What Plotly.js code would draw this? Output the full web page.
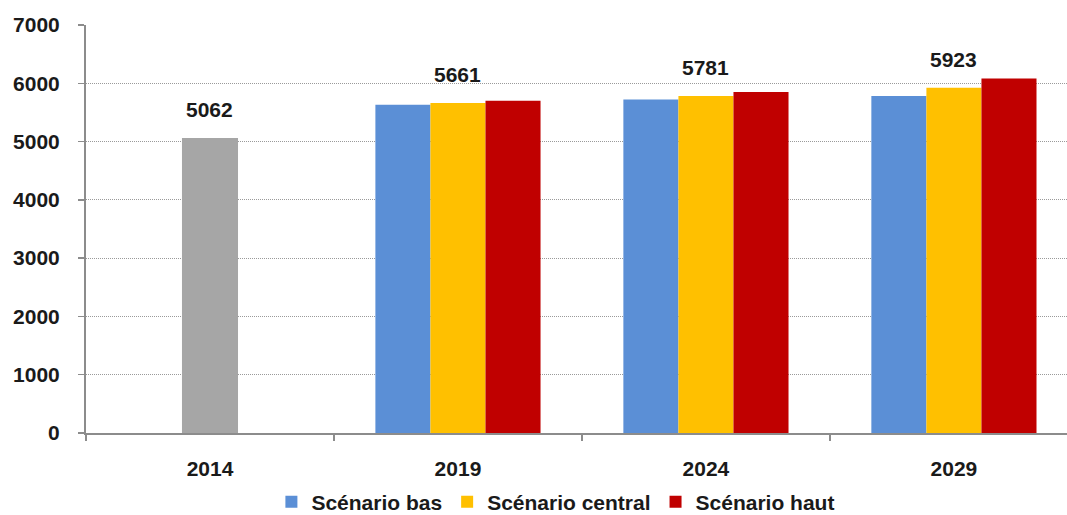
<!DOCTYPE html>
<html>
<head>
<meta charset="utf-8">
<script src="https://cdn.plot.ly/plotly-3.0.1.min.js"></script>
<style>html,body{margin:0;padding:0;background:#fff;}#chart{width:1067px;height:515px;}</style>
</head>
<body>
<div id="chart"></div>
<script>
const categories = ['2014', '2019', '2024', '2029'];
const histCats = ['2014'];
const histValues = [5062];
const scenCats = ['2019', '2024', '2029'];
const basValues = [5630, 5720, 5780];
const centralValues = [5661, 5781, 5923];
const hautValues = [5700, 5850, 6080];
const seriesNames = ['Scénario bas', 'Scénario central', 'Scénario haut'];
const yTicks = [0, 1000, 2000, 3000, 4000, 5000, 6000, 7000];

const FONT = 'Liberation Sans, Arial, sans-serif';
const TXT = '#1a1a1a';
const W = 0.222;
const FS = 21;

const traces = [
  {type: 'bar', x: histCats, y: histValues, name: 'Historique', showlegend: false,
   marker: {color: '#a6a6a6'}, width: 0.226, offset: -0.113},
  {type: 'bar', x: scenCats, y: basValues, name: seriesNames[0],
   marker: {color: '#5b8fd6'}, width: W, offset: -0.333},
  {type: 'bar', x: scenCats, y: centralValues, name: seriesNames[1],
   marker: {color: '#ffc000'}, width: W, offset: -0.111},
  {type: 'bar', x: scenCats, y: hautValues, name: seriesNames[2],
   marker: {color: '#c00000'}, width: W, offset: 0.111}
];

const labelCats = histCats.concat(scenCats);
const labelVals = histValues.concat(centralValues);
const annotations = labelCats.map((c, i) => ({
  x: categories.indexOf(c), y: labelVals[i], xref: 'x', yref: 'y', text: String(labelVals[i]),
  showarrow: false, yanchor: 'bottom', yshift: 15,
  font: {family: FONT, size: FS, color: TXT, weight: 'bold'}
}));

const layout = {
  width: 1067, height: 515,
  margin: {l: 86, r: 0, t: 25, b: 82},
  paper_bgcolor: '#fff', plot_bgcolor: '#fff',
  barmode: 'overlay',
  font: {family: FONT, color: TXT},
  xaxis: {
    type: 'category', categoryorder: 'array', categoryarray: categories,
    range: [-0.5, 3.456], automargin: false,
    showline: true, linecolor: '#8c8c8c', linewidth: 2,
    ticks: 'outside', tickson: 'boundaries', ticklen: 6, tickcolor: '#8c8c8c', tickwidth: 1.5,
    showgrid: false, ticklabelstandoff: 16,
    tickfont: {family: FONT, size: FS, color: TXT, weight: 'bold'}
  },
  yaxis: {
    range: [0, 7000], tickvals: yTicks, automargin: false,
    showline: true, linecolor: '#8c8c8c', linewidth: 2,
    ticks: 'outside', ticklen: 6, tickcolor: '#8c8c8c', tickwidth: 1.5,
    showgrid: true, gridcolor: '#9a9a9a', griddash: '1px,1px', gridwidth: 1,
    zeroline: false, ticklabelstandoff: 14,
    tickfont: {family: FONT, size: FS, color: TXT, weight: 'bold'}
  },
  legend: {
    orientation: 'h', xref: 'paper', x: 0.479, xanchor: 'center',
    yref: 'container', y: 0.025, yanchor: 'middle',
    font: {family: FONT, size: FS, color: TXT, weight: 'bold'},
    itemwidth: 30, traceorder: 'normal'
  },
  annotations: annotations,
  showlegend: true
};

Plotly.newPlot('chart', traces, layout, {displayModeBar: false, staticPlot: true});
</script>
</body>
</html>
